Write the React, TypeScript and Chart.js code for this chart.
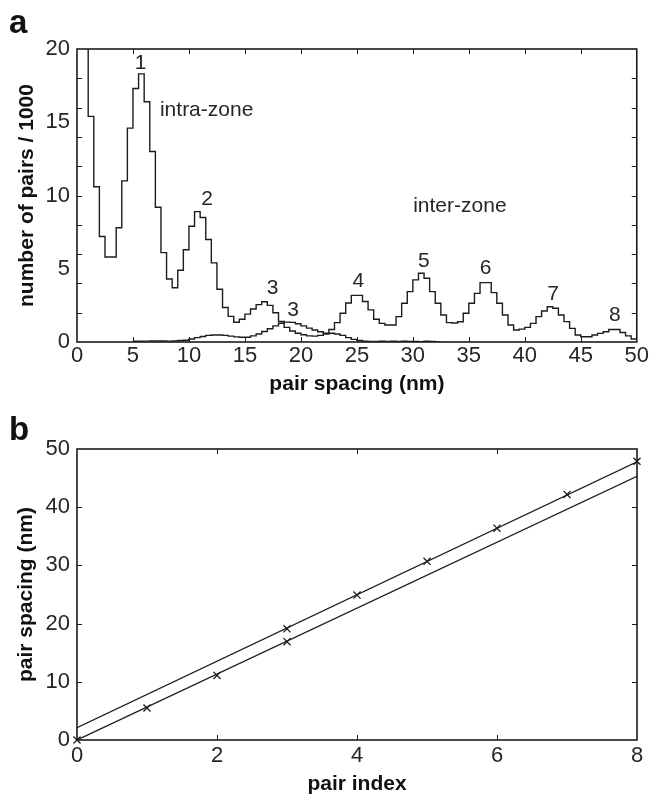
import React, { useEffect, useRef } from 'react';
import { Chart, registerables } from 'chart.js';
Chart.register(...registerables);

const FONT = '"Liberation Sans", Arial, Helvetica, sans-serif';
const INK = '#1c1c1c';
const TEXT = '#262626';

// ---------- Panel a: histograms (number of pairs / 1000 per 0.5 nm bin) ----------
const BIN_WIDTH = 0.5;
const intraStart = 0.5;
const intraCounts = [
  40, 15.4, 10.6, 7.2, 5.8, 5.8, 7.8, 11.0, 14.6, 17.3,
  18.3, 16.4, 13.0, 9.2, 6.1, 4.3, 3.7, 4.9, 6.3, 7.9,
  8.9, 8.5, 7.0, 5.4, 3.6, 2.35, 1.75, 1.35, 1.55, 1.9,
  2.25, 2.55, 2.75, 2.5, 2.0, 1.4, 1.0, 0.75, 0.6, 0.5,
  0.42, 0.4, 0.45, 0.55, 0.6, 0.55, 0.45, 0.3, 0.18, 0.1,
  0.05, 0.03, 0.03, 0.05, 0.03, 0.06, 0.04, 0.05, 0.03, 0.04,
  0.02, 0.05, 0.03, 0.0,
];
const interStart = 5.0;
const interCounts = [
  0.05, 0.06, 0.06, 0.08, 0.07, 0.08, 0.06, 0.08, 0.1, 0.12,
  0.2, 0.3, 0.38, 0.45, 0.48, 0.48, 0.45, 0.4, 0.35, 0.32,
  0.32, 0.42, 0.55, 0.72, 0.9, 1.1, 1.28, 1.36, 1.34, 1.25,
  1.1, 0.95, 0.82, 0.7, 0.6, 0.85, 1.32, 1.96, 2.66, 3.18,
  3.18, 2.76, 2.19, 1.55, 1.27, 1.16, 1.16, 1.73, 2.64, 3.44,
  4.24, 4.69, 4.35, 3.44, 2.64, 1.84, 1.32, 1.3, 1.38, 1.96,
  2.64, 3.32, 4.05, 4.05, 3.37, 2.64, 1.84, 1.16, 0.82, 0.88,
  1.0, 1.27, 1.73, 2.12, 2.41, 2.3, 1.84, 1.39, 0.93, 0.48,
  0.36, 0.36, 0.48, 0.59, 0.7, 0.85, 0.85, 0.65, 0.42, 0.2,
];
const xTickMarksA = [5, 10, 15, 20, 25, 30, 35, 40, 45];
const yTickMarksA = [2, 4, 6, 8, 10, 12, 14, 16, 18];
const peakLabelText = ['1', 'intra-zone', '2', '3', '3', 'inter-zone', '4', '5', '6', '7', '8'];
const peakLabelX = [5.69, 11.58, 11.63, 17.47, 19.31, 34.2, 25.12, 30.98, 36.49, 42.53, 48.04];
const peakLabelY = [19.0, 15.79, 9.74, 3.66, 2.18, 9.24, 4.12, 5.53, 5.07, 3.25, 1.8];

// ---------- Panel b: pair spacing vs pair index ----------
const upperIndex = [3, 4, 5, 6, 7, 8];
const upperSpacing = [19.1, 24.9, 30.7, 36.4, 42.2, 47.9];
const lowerIndex = [0, 1, 2, 3];
const lowerSpacing = [0, 5.5, 11.1, 16.9];
const upperFitX = [0, 8];
const upperFitY = [2.1, 47.8];
const lowerFitX = [0, 8];
const lowerFitY = [0, 45.3];
const xTickMarksB = [2, 4, 6];
const yTickMarksB = [10, 20, 30, 40];

function stepPoints(start: number, counts: number[]) {
  const pts = counts.map((v, i) => ({ x: start + i * BIN_WIDTH, y: v }));
  pts.push({ x: start + counts.length * BIN_WIDTH, y: counts[counts.length - 1] });
  return pts;
}

function framePlugin(xMarks: number[], yMarks: number[], panelLetter: string, letterY: number) {
  return {
    id: 'frame' + panelLetter,
    afterDatasetsDraw(chart: any) {
      const { ctx, chartArea: a, scales } = chart;
      const xs = scales.x, ys = scales.y;
      const L = 5;
      ctx.save();
      ctx.strokeStyle = INK;
      ctx.lineWidth = 1;
      ctx.beginPath();
      for (const v of xMarks) {
        const px = Math.round(xs.getPixelForValue(v)) + 0.5;
        ctx.moveTo(px, a.bottom); ctx.lineTo(px, a.bottom - L);
        ctx.moveTo(px, a.top); ctx.lineTo(px, a.top + L);
      }
      for (const v of yMarks) {
        const py = Math.round(ys.getPixelForValue(v)) + 0.5;
        ctx.moveTo(a.left, py); ctx.lineTo(a.left + L, py);
        ctx.moveTo(a.right, py); ctx.lineTo(a.right - L, py);
      }
      ctx.stroke();
      ctx.lineWidth = 1.6;
      ctx.strokeRect(a.left, a.top, a.right - a.left, a.bottom - a.top);
      ctx.fillStyle = '#111';
      ctx.font = `bold 33px ${FONT}`;
      ctx.textAlign = 'left';
      ctx.textBaseline = 'alphabetic';
      ctx.fillText(panelLetter, 9, letterY);
      ctx.restore();
    },
  };
}

const annotationPlugin = {
  id: 'peakLabels',
  afterDatasetsDraw(chart: any) {
    const { ctx, scales } = chart;
    ctx.save();
    ctx.fillStyle = TEXT;
    ctx.font = `21px ${FONT}`;
    ctx.textAlign = 'center';
    ctx.textBaseline = 'middle';
    peakLabelText.forEach((t, i) => {
      ctx.fillText(t, scales.x.getPixelForValue(peakLabelX[i]), scales.y.getPixelForValue(peakLabelY[i]));
    });
    ctx.restore();
  },
};

const tickFont = { family: FONT, size: 22 };
const titleFont = { family: FONT, size: 21, weight: 'bold' as const };

function axisX(min: number, max: number, step: number, title: string, height: number, labelPad: number, titlePad: number) {
  return {
    type: 'linear' as const,
    min, max,
    grid: { display: false, drawTicks: false },
    border: { display: false },
    ticks: { stepSize: step, padding: labelPad, color: TEXT, font: tickFont, maxRotation: 0, autoSkip: false },
    title: { display: true, text: title, color: '#111', font: titleFont, padding: { top: 0, bottom: titlePad } },
    afterFit: (s: any) => { s.height = height; },
  };
}
function axisY(min: number, max: number, step: number, title: string, titlePad: number) {
  return {
    type: 'linear' as const,
    min, max,
    grid: { display: false, drawTicks: false },
    border: { display: false },
    ticks: { stepSize: step, padding: 7, color: TEXT, font: tickFont, autoSkip: false },
    title: { display: true, text: title, color: '#111', font: titleFont, padding: { top: titlePad, bottom: 0 } },
    afterFit: (s: any) => { s.width = 77; },
  };
}

export default function App() {
  const refA = useRef<HTMLCanvasElement>(null);
  const refB = useRef<HTMLCanvasElement>(null);

  useEffect(() => {
    const chartA = new Chart(refA.current!, {
      type: 'line',
      data: {
        datasets: [
          { data: stepPoints(intraStart, intraCounts), stepped: 'before', borderColor: INK, borderWidth: 1.4, pointRadius: 0, fill: false },
          { data: stepPoints(interStart, interCounts), stepped: 'before', borderColor: INK, borderWidth: 1.4, pointRadius: 0, fill: false },
        ],
      },
      options: {
        animation: false,
        responsive: false,
        maintainAspectRatio: false,
        events: [],
        layout: { padding: { left: 0, right: 13, top: 49, bottom: 0 } },
        plugins: { legend: { display: false }, tooltip: { enabled: false } },
        scales: {
          x: axisX(0, 50, 5, 'pair spacing (nm)', 58, 1, 3),
          y: axisY(0, 20, 5, 'number of pairs / 1000', 15),
        },
      },
      plugins: [framePlugin(xTickMarksA, yTickMarksA, 'a', 33), annotationPlugin],
    } as any);

    const chartB = new Chart(refB.current!, {
      type: 'line',
      data: {
        datasets: [
          { data: upperFitX.map((x, i) => ({ x, y: upperFitY[i] })), borderColor: INK, borderWidth: 1.3, pointRadius: 0, fill: false },
          { data: lowerFitX.map((x, i) => ({ x, y: lowerFitY[i] })), borderColor: INK, borderWidth: 1.3, pointRadius: 0, fill: false },
          { data: upperIndex.map((x, i) => ({ x, y: upperSpacing[i] })), showLine: false, pointStyle: 'crossRot', pointRadius: 5, pointBorderWidth: 1.3, pointBorderColor: INK, clip: false },
          { data: lowerIndex.map((x, i) => ({ x, y: lowerSpacing[i] })), showLine: false, pointStyle: 'crossRot', pointRadius: 5, pointBorderWidth: 1.3, pointBorderColor: INK, clip: false },
        ],
      },
      options: {
        animation: false,
        responsive: false,
        maintainAspectRatio: false,
        events: [],
        layout: { padding: { left: 0, right: 13, top: 59, bottom: 0 } },
        plugins: { legend: { display: false }, tooltip: { enabled: false } },
        scales: {
          x: axisX(0, 8, 2, 'pair index', 57, 3, 0),
          y: axisY(0, 50, 10, 'pair spacing (nm)', 14),
        },
      },
      plugins: [framePlugin(xTickMarksB, yTickMarksB, 'b', 50)],
    } as any);

    return () => { chartA.destroy(); chartB.destroy(); };
  }, []);

  return (
    <div style={{ position: 'absolute', left: 0, top: 0, width: 650, height: 797, overflow: 'hidden', background: '#fff' }}>
      <canvas ref={refA} width={650} height={400} style={{ position: 'absolute', left: 0, top: 0, width: 650, height: 400 }} />
      <canvas ref={refB} width={650} height={407} style={{ position: 'absolute', left: 0, top: 390, width: 650, height: 407 }} />
    </div>
  );
}
